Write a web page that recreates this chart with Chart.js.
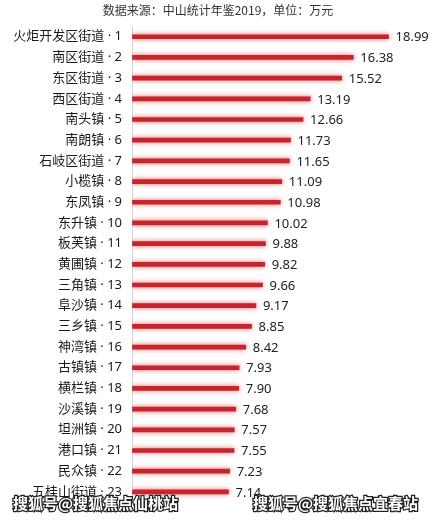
<!DOCTYPE html>
<html>
<head>
<meta charset="utf-8">
<script src="https://cdn.jsdelivr.net/npm/chart.js@4/dist/chart.umd.min.js"></script>
<style>
  html, body { margin: 0; padding: 0; background: #fff; }
  #wrap { width: 436px; height: 520px; position: relative; }
</style>
</head>
<body>
<div id="wrap"><canvas id="chart"></canvas></div>
<script>
// 中山各镇街数据
const towns = [
  '火炬开发区街道', '南区街道', '东区街道', '西区街道', '南头镇', '南朗镇',
  '石岐区街道', '小榄镇', '东凤镇', '东升镇', '板芙镇', '黄圃镇', '三角镇',
  '阜沙镇', '三乡镇', '神湾镇', '古镇镇', '横栏镇', '沙溪镇', '坦洲镇',
  '港口镇', '民众镇', '五桂山街道'
];
const values = [
  18.99, 16.38, 15.52, 13.19, 12.66, 11.73, 11.65, 11.09, 10.98, 10.02, 9.88, 9.82,
  9.66, 9.17, 8.85, 8.42, 7.93, 7.90, 7.68, 7.57, 7.55, 7.23, 7.14
];
const titleText = '数据来源：中山统计年鉴2019，单位：万元';
const watermarks = ['搜狐号@搜狐焦点仙桃站', '搜狐号@搜狐焦点宜春站'];

const labels = towns.map((t, i) => t + ' · ' + (i + 1));
// latin first so the middle dot stays narrow
const FONT = '"Noto Sans", "Noto Sans CJK SC", sans-serif';
const CJK = '"Noto Sans CJK SC", sans-serif';

// soft glow around bars
const glowPlugin = {
  id: 'glow',
  beforeDatasetsDraw(chart) {
    const ctx = chart.ctx;
    ctx.save();
    ctx.shadowColor = 'rgba(228, 80, 85, 0.9)';
    ctx.shadowBlur = 5;
  },
  afterDatasetsDraw(chart) {
    chart.ctx.restore();
  }
};

// value labels at bar ends
const valueLabels = {
  id: 'valueLabels',
  afterDatasetsDraw(chart) {
    const ctx = chart.ctx;
    const meta = chart.getDatasetMeta(0);
    ctx.save();
    ctx.font = '13px ' + FONT;
    ctx.fillStyle = '#222';
    ctx.textBaseline = 'middle';
    meta.data.forEach((bar, i) => {
      ctx.fillText(values[i].toFixed(2), bar.x + 7, bar.y + 1);
    });
    ctx.restore();
  }
};

// overlay watermark texts
const watermarkPlugin = {
  id: 'watermark',
  afterDraw(chart) {
    const ctx = chart.ctx;
    ctx.save();
    ctx.font = 'bold 15px ' + CJK;
    ctx.textBaseline = 'middle';
    ctx.lineWidth = 2.5;
    ctx.strokeStyle = '#222';
    ctx.fillStyle = '#fff';
    const pos = [[13, 503], [253, 503]];
    watermarks.forEach((w, i) => {
      ctx.strokeText(w, pos[i][0], pos[i][1]);
      ctx.fillText(w, pos[i][0], pos[i][1]);
    });
    ctx.restore();
  }
};

new Chart(document.getElementById('chart'), {
  type: 'bar',
  data: {
    labels: labels,
    datasets: [{
      data: values,
      backgroundColor: '#c4262b',
      barThickness: 4,
      borderSkipped: false
    }]
  },
  options: {
    indexAxis: 'y',
    responsive: true,
    maintainAspectRatio: false,
    animation: false,
    layout: { padding: 0 },
    plugins: {
      legend: { display: false },
      tooltip: { enabled: false },
      title: {
        display: true,
        text: titleText,
        color: '#333',
        font: { family: CJK, size: 12, weight: 'normal' },
        padding: { top: 3, bottom: 9 }
      }
    },
    scales: {
      x: {
        min: 0,
        max: 22.5,
        ticks: { display: false, stepSize: 5 },
        border: { display: false },
        grid: {
          drawTicks: false,
          color: (c) => (c.tick && c.tick.value === 20 ? '#e4e4e4' : 'transparent')
        },
        afterFit: (s) => { s.height = 0; }
      },
      y: {
        ticks: {
          color: '#1a1a1a',
          padding: 10,
          font: { family: FONT, size: 13 }
        },
        grid: { display: false, drawTicks: false },
        border: { display: true, color: '#d6d6d6' },
        afterFit: (s) => { s.width = 132; }
      }
    }
  },
  plugins: [glowPlugin, valueLabels, watermarkPlugin]
});
</script>
</body>
</html>
